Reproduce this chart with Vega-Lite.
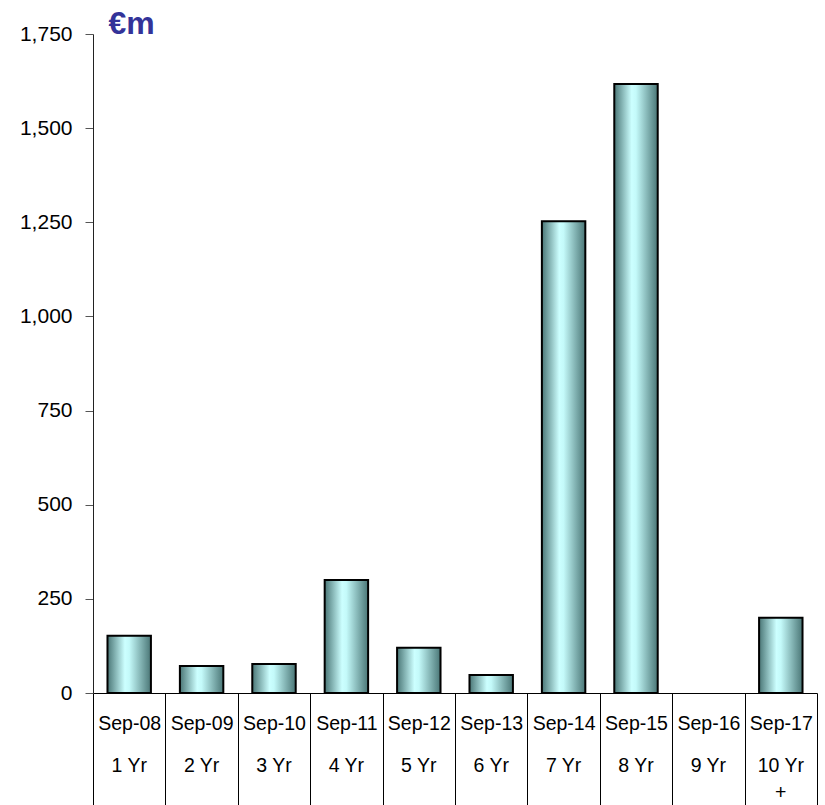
{
  "$schema": "https://vega.github.io/schema/vega-lite/v6.json",
  "width": 724,
  "height": 659,
  "autosize": {"type": "none"},
  "padding": {"left": 93, "top": 34, "right": 8, "bottom": 112},
  "background": "white",
  "config": {
    "view": {"stroke": null},
    "font": "Liberation Sans"
  },
  "data": {
    "values": [
      {"maturity": "Sep-08", "term": "1 Yr", "amount": 152},
      {"maturity": "Sep-09", "term": "2 Yr", "amount": 72},
      {"maturity": "Sep-10", "term": "3 Yr", "amount": 77},
      {"maturity": "Sep-11", "term": "4 Yr", "amount": 300},
      {"maturity": "Sep-12", "term": "5 Yr", "amount": 120},
      {"maturity": "Sep-13", "term": "6 Yr", "amount": 48},
      {"maturity": "Sep-14", "term": "7 Yr", "amount": 1253},
      {"maturity": "Sep-15", "term": "8 Yr", "amount": 1617},
      {"maturity": "Sep-16", "term": "9 Yr", "amount": 0},
      {"maturity": "Sep-17", "term": "10 Yr +", "amount": 200}
    ]
  },
  "encoding": {
    "y": {
      "field": "amount",
      "type": "quantitative",
      "scale": {"domain": [0, 1750], "nice": false},
      "axis": {
        "values": [0, 250, 500, 750, 1000, 1250, 1500, 1750],
        "format": ",.0f",
        "grid": false,
        "labelFontSize": 21,
        "labelColor": "black",
        "labelPadding": 13,
        "tickSize": 8,
        "tickColor": "#555555",
        "domainColor": "#222222",
        "title": "€m",
        "titleAngle": 0,
        "titleFontSize": 32,
        "titleFontWeight": "bold",
        "titleColor": "#333399",
        "titleAlign": "left",
        "titleBaseline": "alphabetic",
        "titleX": 15,
        "titleY": -1
      }
    }
  },
  "layer": [
    {
      "mark": {
        "type": "bar",
        "width": {"band": 0.6},
        "fill": {
          "gradient": "linear",
          "x1": 0, "y1": 0, "x2": 1, "y2": 0,
          "stops": [
            {"offset": 0, "color": "#4a7676"},
            {"offset": 0.4, "color": "#ccffff"},
            {"offset": 0.5, "color": "#c4fafa"},
            {"offset": 1, "color": "#4a7676"}
          ]
        }
      },
      "encoding": {
        "x": {
          "field": "maturity",
          "type": "nominal",
          "sort": null,
          "scale": {"paddingInner": 0, "paddingOuter": 0},
          "axis": {
            "orient": "bottom",
            "title": null,
            "grid": false,
            "tickBand": "extent",
            "tickSize": 112,
            "tickColor": "black",
            "domainColor": "black",
            "labelAngle": 0,
            "labelFontSize": 19.5,
            "labelColor": "black",
            "labelBaseline": "middle",
            "labelPadding": -82
          }
        }
      }
    },
    {
      "mark": {
        "type": "bar",
        "width": {"band": 0.6},
        "fill": "transparent",
        "stroke": "black",
        "strokeWidth": 2
      },
      "encoding": {
        "x": {
          "field": "term",
          "type": "nominal",
          "sort": null,
          "scale": {"paddingInner": 0, "paddingOuter": 0},
          "axis": {
            "orient": "bottom",
            "title": null,
            "grid": false,
            "domain": false,
            "ticks": false,
            "tickSize": 0,
            "labelAngle": 0,
            "labelFontSize": 19.5,
            "labelColor": "black",
            "labelBaseline": "middle",
            "labelPadding": 72,
            "labelLineHeight": 27,
            "labelExpr": "indexof(datum.label, '+') > 0 ? [trim(replace(datum.label, '+', '')), '+'] : datum.label"
          }
        },
        "strokeOpacity": {
          "condition": {"test": "datum.amount > 0", "value": 1},
          "value": 0
        }
      }
    }
  ],
  "resolve": {"scale": {"x": "independent"}}
}
